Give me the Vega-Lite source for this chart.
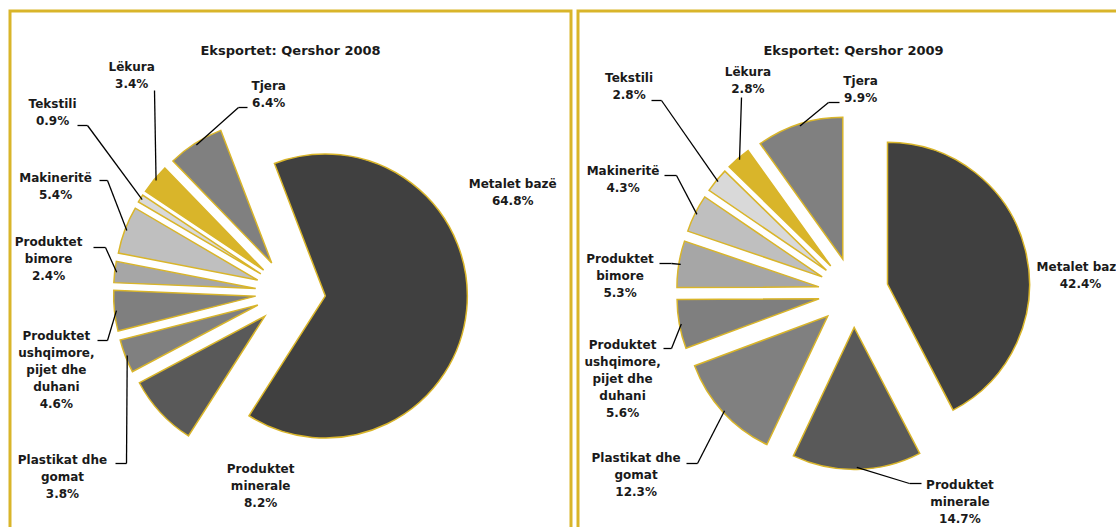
{
  "$schema": "https://vega.github.io/schema/vega-lite/v6.json",
  "background": "white",
  "padding": {"left": 8, "top": 9, "right": 0, "bottom": 0},
  "spacing": 3,
  "config": {"view": {"stroke": "#d9b52a", "strokeWidth": 3}},
  "params": [
    {"name": "LAB08", "value": {
      "Metalet bazë": [-29.9, 243.5],
      "Produktet minerale": [-38.5, 195.3],
      "Plastikat dhe gomat": [-17.95, 293.6],
      "Produktet ushqimore, pijet dhe duhani": [-12.4, 246.7],
      "Produktet bimore": [1.2, 244.2],
      "Makineritë": [3.6, 257.8],
      "Tekstili": [5.05, 298.4],
      "Lëkura": [14.0, 269],
      "Tjera": [26.25, 199.2]
    }},
    {"name": "LAB09", "value": {
      "Metalet bazë": [9.4, 227.7],
      "Produktet minerale": [-25.9, 234.6],
      "Plastikat dhe gomat": [2.5, 283.9],
      "Produktet ushqimore, pijet dhe duhani": [-10.3, 246.8],
      "Produktet bimore": [-5.1, 234.1],
      "Makineritë": [-0.4, 256.7],
      "Tekstili": [3.2, 304.4],
      "Lëkura": [14.2, 237.2],
      "Tjera": [19.8, 203.1]
    }},
    {"name": "LEAD08", "value": {
      "Tjera": [-43, -185, -52, -185],
      "Lëkura": [-136, -202, -136, -202],
      "Tekstili": [-213, -167, -203, -167],
      "Makineritë": [-191, -112, -183, -112],
      "Produktet bimore": [-197, -45, -185, -45],
      "Produktet ushqimore, pijet dhe duhani": [-193, 48, -183, 48],
      "Plastikat dhe gomat": [-175, 171, -164, 171]
    }},
    {"name": "LEAD09", "value": {
      "Tjera": [-14, -190, -25, -190],
      "Lëkura": [-112, -195, -112, -195],
      "Tekstili": [-202, -192, -192, -192],
      "Makineritë": [-189, -117, -177, -117],
      "Produktet bimore": [-194, -29, -182, -29],
      "Produktet ushqimore, pijet dhe duhani": [-190, 56, -182, 56],
      "Plastikat dhe gomat": [-167, 171, -156, 171],
      "Produktet minerale": [68, 191, 56, 191]
    }}
  ],
  "datasets": {
    "d08": [
      {"i": 1, "cat": "Metalet bazë", "label": "Metalet bazë", "pct": 64.8},
      {"i": 2, "cat": "Produktet minerale", "label": "Produktet\nminerale", "pct": 8.2},
      {"i": 3, "cat": "Plastikat dhe gomat", "label": "Plastikat dhe\ngomat", "pct": 3.8},
      {"i": 4, "cat": "Produktet ushqimore, pijet dhe duhani", "label": "Produktet\nushqimore,\npijet dhe\nduhani", "pct": 4.6},
      {"i": 5, "cat": "Produktet bimore", "label": "Produktet\nbimore", "pct": 2.4},
      {"i": 6, "cat": "Makineritë", "label": "Makineritë", "pct": 5.4},
      {"i": 7, "cat": "Tekstili", "label": "Tekstili", "pct": 0.9},
      {"i": 8, "cat": "Lëkura", "label": "Lëkura", "pct": 3.4},
      {"i": 9, "cat": "Tjera", "label": "Tjera", "pct": 6.4}
    ],
    "d09": [
      {"i": 1, "cat": "Metalet bazë", "label": "Metalet bazë", "pct": 42.4},
      {"i": 2, "cat": "Produktet minerale", "label": "Produktet\nminerale", "pct": 14.7},
      {"i": 3, "cat": "Plastikat dhe gomat", "label": "Plastikat dhe\ngomat", "pct": 12.3},
      {"i": 4, "cat": "Produktet ushqimore, pijet dhe duhani", "label": "Produktet\nushqimore,\npijet dhe\nduhani", "pct": 5.6},
      {"i": 5, "cat": "Produktet bimore", "label": "Produktet\nbimore", "pct": 5.3},
      {"i": 6, "cat": "Makineritë", "label": "Makineritë", "pct": 4.3},
      {"i": 7, "cat": "Tekstili", "label": "Tekstili", "pct": 2.8},
      {"i": 8, "cat": "Lëkura", "label": "Lëkura", "pct": 2.8},
      {"i": 9, "cat": "Tjera", "label": "Tjera", "pct": 9.9}
    ]
  },
  "hconcat": [
    {
      "width": 561,
      "height": 521,
      "title": {"text": "Eksportet: Qershor 2008", "offset": -47, "anchor": "middle", "frame": "group", "font": "DejaVu Sans", "fontSize": 13, "fontWeight": "bold", "color": "#1a1a1a"},
      "data": {"name": "d08"},
      "transform": [{"window": [{"op": "sum", "field": "pct", "as": "cum"}], "sort": [{"field": "i"}]}],
      "layer": [
        {
          "mark": {"type": "arc", "radius": 142, "stroke": "#d9b52a", "strokeWidth": 1.5,
            "x": {"expr": "280.5 + 35*sin(-0.3665 + (2*datum.cum - datum.pct)*PI/99.9)"},
            "y": {"expr": "281.5 - 35*cos(-0.3665 + (2*datum.cum - datum.pct)*PI/99.9)"}},
          "encoding": {
            "theta": {"field": "pct", "type": "quantitative", "stack": true, "scale": {"domain": [0, 99.9], "range": [-0.3665, 5.9167]}},
            "order": {"field": "i"},
            "color": {"field": "cat", "type": "nominal", "legend": null,
              "scale": {"domain": ["Metalet bazë", "Produktet minerale", "Plastikat dhe gomat", "Produktet ushqimore, pijet dhe duhani", "Produktet bimore", "Makineritë", "Tekstili", "Lëkura", "Tjera"],
                "range": ["#404040", "#595959", "#808080", "#7f7f7f", "#a6a6a6", "#bfbfbf", "#d9d9d9", "#d9b52a", "#808080"]}}
          }
        },
        {
          "mark": {"type": "text", "font": "DejaVu Sans", "fontWeight": "bold", "fontSize": 12, "lineHeight": 17, "lineBreak": "\n", "align": "center", "baseline": "middle", "color": "#1a1a1a",
            "x": 280.5, "y": 281.5,
            "dy": {"expr": "-8.5*length(split(datum.label, '\\n'))"},
            "radius": {"expr": "LAB08[datum.cat][1]"},
            "thetaOffset": {"expr": "LAB08[datum.cat][0]*PI/180"},
            "text": {"expr": "datum.label + '\\n' + format(datum.pct, '.1f') + '%'"}},
          "encoding": {
            "theta": {"field": "pct", "type": "quantitative", "stack": true},
            "order": {"field": "i"}
          }
        },
        {
          "transform": [{"filter": "isValid(LEAD08[datum.cat])"}],
          "mark": {"type": "rule", "color": "#000000", "strokeWidth": 1.3},
          "encoding": {
            "x": {"value": {"expr": "280.5 + LEAD08[datum.cat][0]"}},
            "y": {"value": {"expr": "281.5 + LEAD08[datum.cat][1]"}},
            "x2": {"value": {"expr": "280.5 + LEAD08[datum.cat][2]"}},
            "y2": {"value": {"expr": "281.5 + LEAD08[datum.cat][3]"}}
          }
        },
        {
          "transform": [{"filter": "isValid(LEAD08[datum.cat])"}],
          "mark": {"type": "rule", "color": "#000000", "strokeWidth": 1.3},
          "encoding": {
            "x": {"value": {"expr": "280.5 + LEAD08[datum.cat][2]"}},
            "y": {"value": {"expr": "281.5 + LEAD08[datum.cat][3]"}},
            "x2": {"value": {"expr": "280.5 + 175*sin(-0.3665 + (2*datum.cum - datum.pct)*PI/99.9)"}},
            "y2": {"value": {"expr": "281.5 - 175*cos(-0.3665 + (2*datum.cum - datum.pct)*PI/99.9)"}}
          }
        }
      ]
    },
    {
      "width": 551,
      "height": 521,
      "title": {"text": "Eksportet: Qershor 2009", "offset": -47, "anchor": "middle", "frame": "group", "font": "DejaVu Sans", "fontSize": 13, "fontWeight": "bold", "color": "#1a1a1a"},
      "data": {"name": "d09"},
      "transform": [{"window": [{"op": "sum", "field": "pct", "as": "cum"}], "sort": [{"field": "i"}]}],
      "layer": [
        {
          "mark": {"type": "arc", "radius": 142, "stroke": "#d9b52a", "strokeWidth": 1.5,
            "x": {"expr": "275.5 + 35*sin((2*datum.cum - datum.pct)*PI/100.1)"},
            "y": {"expr": "281.5 - 35*cos((2*datum.cum - datum.pct)*PI/100.1)"}},
          "encoding": {
            "theta": {"field": "pct", "type": "quantitative", "stack": true, "scale": {"domain": [0, 100.1], "range": [0, 6.2832]}},
            "order": {"field": "i"},
            "color": {"field": "cat", "type": "nominal", "legend": null,
              "scale": {"domain": ["Metalet bazë", "Produktet minerale", "Plastikat dhe gomat", "Produktet ushqimore, pijet dhe duhani", "Produktet bimore", "Makineritë", "Tekstili", "Lëkura", "Tjera"],
                "range": ["#404040", "#595959", "#808080", "#7f7f7f", "#a6a6a6", "#bfbfbf", "#d9d9d9", "#d9b52a", "#808080"]}}
          }
        },
        {
          "mark": {"type": "text", "font": "DejaVu Sans", "fontWeight": "bold", "fontSize": 12, "lineHeight": 17, "lineBreak": "\n", "align": "center", "baseline": "middle", "color": "#1a1a1a",
            "x": 275.5, "y": 281.5,
            "dy": {"expr": "-8.5*length(split(datum.label, '\\n'))"},
            "radius": {"expr": "LAB09[datum.cat][1]"},
            "thetaOffset": {"expr": "LAB09[datum.cat][0]*PI/180"},
            "text": {"expr": "datum.label + '\\n' + format(datum.pct, '.1f') + '%'"}},
          "encoding": {
            "theta": {"field": "pct", "type": "quantitative", "stack": true},
            "order": {"field": "i"}
          }
        },
        {
          "transform": [{"filter": "isValid(LEAD09[datum.cat])"}],
          "mark": {"type": "rule", "color": "#000000", "strokeWidth": 1.3},
          "encoding": {
            "x": {"value": {"expr": "275.5 + LEAD09[datum.cat][0]"}},
            "y": {"value": {"expr": "281.5 + LEAD09[datum.cat][1]"}},
            "x2": {"value": {"expr": "275.5 + LEAD09[datum.cat][2]"}},
            "y2": {"value": {"expr": "281.5 + LEAD09[datum.cat][3]"}}
          }
        },
        {
          "transform": [{"filter": "isValid(LEAD09[datum.cat])"}],
          "mark": {"type": "rule", "color": "#000000", "strokeWidth": 1.3},
          "encoding": {
            "x": {"value": {"expr": "275.5 + LEAD09[datum.cat][2]"}},
            "y": {"value": {"expr": "281.5 + LEAD09[datum.cat][3]"}},
            "x2": {"value": {"expr": "275.5 + 175*sin((2*datum.cum - datum.pct)*PI/100.1)"}},
            "y2": {"value": {"expr": "281.5 - 175*cos((2*datum.cum - datum.pct)*PI/100.1)"}}
          }
        }
      ]
    }
  ]
}
